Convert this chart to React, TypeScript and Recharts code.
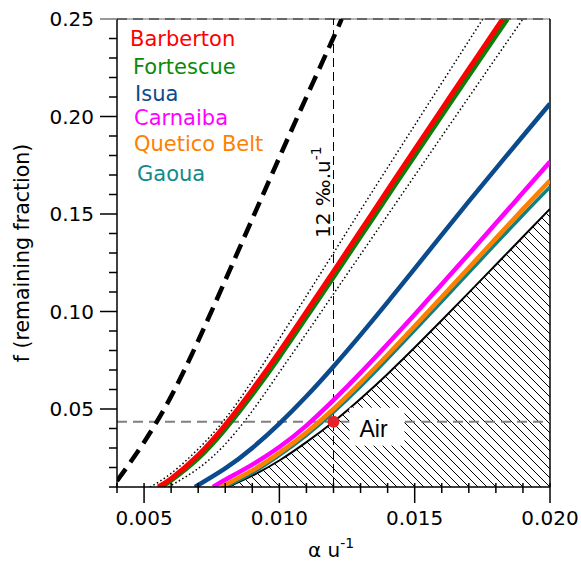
import React from "react";
import {
  ComposedChart, Line, Area, XAxis, YAxis, ReferenceLine, ReferenceDot, Customized,
} from "recharts";

const FONT = "'DejaVu Sans', sans-serif";

// [α u⁻¹, f] pairs
const barberton = [
  [0.00552, 0.010], [0.006, 0.0143], [0.007, 0.0263], [0.008, 0.0418], [0.009, 0.0598],
  [0.010, 0.0793], [0.011, 0.0998], [0.012, 0.1205], [0.013, 0.1413], [0.014, 0.1622],
  [0.015, 0.183], [0.016, 0.2037], [0.017, 0.2243], [0.018, 0.2448], [0.01825, 0.25],
];
const fortescue = [
  [0.00563, 0.010], [0.006, 0.0135], [0.007, 0.0248], [0.008, 0.0398], [0.009, 0.0575],
  [0.010, 0.0768], [0.011, 0.0972], [0.012, 0.1178], [0.013, 0.1385], [0.014, 0.1593],
  [0.015, 0.180], [0.016, 0.2006], [0.017, 0.2211], [0.018, 0.2415], [0.01842, 0.25],
];
const bandUpper = [
  [0.00522, 0.010], [0.006, 0.017], [0.007, 0.0295], [0.008, 0.045], [0.009, 0.0645],
  [0.010, 0.086], [0.011, 0.108], [0.012, 0.130], [0.013, 0.152], [0.014, 0.1738],
  [0.015, 0.1955], [0.016, 0.2172], [0.017, 0.2388], [0.01752, 0.25],
];
const bandLower = [
  [0.0059, 0.010], [0.007, 0.0195], [0.008, 0.032], [0.009, 0.049], [0.010, 0.0688],
  [0.011, 0.0888], [0.012, 0.109], [0.013, 0.1292], [0.014, 0.1494], [0.015, 0.1696],
  [0.016, 0.1898], [0.017, 0.2099], [0.018, 0.230], [0.019, 0.250],
];
const isua = [
  [0.00688, 0.010], [0.008, 0.0195], [0.009, 0.030], [0.010, 0.0425], [0.011, 0.0565],
  [0.012, 0.0718], [0.013, 0.088], [0.014, 0.1048], [0.015, 0.122], [0.016, 0.1393],
  [0.017, 0.1565], [0.018, 0.1733], [0.019, 0.190], [0.020, 0.2066],
];
const carnaiba = [
  [0.00755, 0.010], [0.008, 0.0137], [0.009, 0.0215], [0.010, 0.0305], [0.011, 0.0415],
  [0.012, 0.0545], [0.013, 0.0685], [0.014, 0.0833], [0.015, 0.0985], [0.016, 0.114],
  [0.017, 0.1295], [0.018, 0.1452], [0.019, 0.161], [0.020, 0.1768],
];
const quetico = [
  [0.00784, 0.010], [0.009, 0.0185], [0.010, 0.0275], [0.011, 0.038], [0.012, 0.050],
  [0.013, 0.0635], [0.014, 0.0778], [0.015, 0.0925], [0.016, 0.1074], [0.017, 0.1224],
  [0.018, 0.1375], [0.019, 0.1525], [0.020, 0.1672],
];
const gaoua = [
  [0.0080, 0.010], [0.009, 0.0172], [0.010, 0.0262], [0.011, 0.0365], [0.012, 0.0483],
  [0.013, 0.0615], [0.014, 0.0757], [0.015, 0.0903], [0.016, 0.1051], [0.017, 0.120],
  [0.018, 0.1348], [0.019, 0.1495], [0.020, 0.1638],
];
const airLimit = [
  [0.0081, 0.010], [0.009, 0.0158], [0.010, 0.0236], [0.011, 0.033], [0.012, 0.0435],
  [0.013, 0.0553], [0.014, 0.068], [0.015, 0.0815], [0.016, 0.0955], [0.017, 0.1097],
  [0.018, 0.124], [0.019, 0.1383], [0.020, 0.1526],
];
const rayleigh = [
  [0.004, 0.0131], [0.005, 0.033], [0.006, 0.0565], [0.007, 0.085], [0.008, 0.116],
  [0.009, 0.1475], [0.010, 0.179], [0.011, 0.210], [0.012, 0.2405], [0.0123, 0.25],
];

const air = { x: 0.012, f: 0.0435 };

const xTicks = [0.004, 0.005, 0.006, 0.007, 0.008, 0.009, 0.010, 0.011, 0.012,
  0.013, 0.014, 0.015, 0.016, 0.017, 0.018, 0.019, 0.020];
const yTicks = [0.01, 0.02, 0.03, 0.04, 0.05, 0.06, 0.07, 0.08, 0.09, 0.10, 0.11, 0.12, 0.13,
  0.14, 0.15, 0.16, 0.17, 0.18, 0.19, 0.20, 0.21, 0.22, 0.23, 0.24, 0.25];

const legendNames = ["Barberton", "Fortescue", "Isua", "Carnaiba", "Quetico Belt", "Gaoua"];
const legendColors = ["#ff0000", "#0a8a0a", "#0b4a8c", "#ff00ff", "#ff8000", "#108a8a"];
const legendPos = [[130, 46], [133, 74], [135, 101], [134, 125], [134, 151], [137, 181]];

const pts = (a: number[][]) => a.map(([x, f]) => ({ x, f }));

function XTick({ x, y, payload }: any) {
  const v = payload.value;
  const major = Math.round(v * 1000) % 5 === 0;
  return (
    <g>
      <line x1={x} x2={x} y1={y - 4} y2={y + (major ? 16 : 6)} stroke="#000" strokeWidth={1.5} />
      {major && (
        <text x={x} y={y + 38} textAnchor="middle" fontSize={20} fontFamily={FONT} fill="#000">
          {v.toFixed(3)}
        </text>
      )}
    </g>
  );
}

function YTick({ x, y, payload }: any) {
  const v = payload.value;
  const major = Math.round(v * 100) % 5 === 0;
  return (
    <g>
      <line x1={x - (major ? 17 : 8)} x2={x} y1={y} y2={y}
        stroke={v > 0.245 ? "#777" : "#000"} strokeWidth={1.5} />
      {major && (
        <text x={x - 23} y={y + 7} textAnchor="end" fontSize={20} fontFamily={FONT} fill="#000">
          {v.toFixed(2)}
        </text>
      )}
    </g>
  );
}

function AirLabel({ viewBox }: any) {
  const cx = viewBox.x + viewBox.width / 2;
  const cy = viewBox.y + viewBox.height / 2;
  return (
    <g>
      <rect x={cx + 16} y={cy - 14} width={55} height={38} fill="#fff" />
      <text x={cx + 26} y={cy + 15} fontSize={23} fontFamily="'Liberation Sans', Arial, sans-serif" fill="#000">
        Air
      </text>
    </g>
  );
}

function PermilLabel({ viewBox }: any) {
  const x = viewBox.x - 4;
  const y = viewBox.y + 219;
  return (
    <text transform={`translate(${x},${y}) rotate(-90)`} fontSize={20} fontFamily={FONT} fill="#000">
      12 ‰.u<tspan dy={-9} fontSize={14}>-1</tspan>
    </text>
  );
}

function Annotations() {
  return (
    <g fontFamily={FONT}>
      {legendNames.map((n, i) => (
        <text key={n} x={legendPos[i][0]} y={legendPos[i][1]} fill={legendColors[i]} fontSize={21}>{n}</text>
      ))}
      <text transform="translate(29,253) rotate(-90)" textAnchor="middle" fontSize={20.5} fill="#000">
        f (remaining fraction)
      </text>
      <text x={308} y={557} fontSize={20} fill="#000">
        α u<tspan dy={-9} fontSize={14}>-1</tspan>
      </text>
    </g>
  );
}

const curve = { type: "natural" as const, dot: false, activeDot: false, isAnimationActive: false };

export default function App() {
  return (
    <div style={{ width: 581, height: 564, background: "#fff" }}>
      <style>{"body{margin:0}"}</style>
      <ComposedChart width={581} height={564} margin={{ top: 19, right: 31, left: 0, bottom: 0 }}>
        <defs>
          <pattern id="hatch" patternUnits="userSpaceOnUse" width={9} height={9}>
            <path d="M-1,-1 L10,10 M-1,8 L1,10 M8,-1 L10,1" stroke="#000" strokeWidth={1} />
          </pattern>
        </defs>
        <XAxis type="number" dataKey="x" domain={[0.004, 0.02]} ticks={xTicks} interval={0}
          allowDataOverflow height={77} tick={XTick} tickLine={false} tickSize={0} tickMargin={0}
          axisLine={{ stroke: "#000", strokeWidth: 1.5 }} />
        <YAxis type="number" dataKey="f" domain={[0.01, 0.25]} ticks={yTicks} interval={0}
          allowDataOverflow width={117} tick={YTick} tickLine={false} tickSize={0} tickMargin={0}
          axisLine={{ stroke: "#000", strokeWidth: 1.5 }} />

        <Area data={pts(airLimit)} dataKey="f" baseValue={0.01} {...curve}
          fill="url(#hatch)" fillOpacity={1} stroke="#000" strokeWidth={2} />

        <ReferenceLine y={0.25} stroke="#b5b5b5" strokeWidth={2} />
        <ReferenceLine y={0.25} stroke="#666" strokeWidth={2} strokeDasharray="10 6" />
        <ReferenceLine x={0.02} stroke="#000" strokeWidth={1.5} />
        <ReferenceLine y={air.f} stroke="#808080" strokeWidth={2} strokeDasharray="10 6" />
        <ReferenceLine x={air.x} stroke="#000" strokeWidth={1} strokeDasharray="9 5" label={<PermilLabel />} />

        <Line data={pts(bandUpper)} dataKey="f" {...curve} stroke="#000" strokeWidth={1.5} strokeDasharray="1.5 2.5" />
        <Line data={pts(bandLower)} dataKey="f" {...curve} stroke="#000" strokeWidth={1.5} strokeDasharray="1.5 2.5" />
        <Line data={pts(rayleigh)} dataKey="f" {...curve} stroke="#000" strokeWidth={4.5} strokeDasharray="15 8" />
        <Line data={pts(fortescue)} dataKey="f" {...curve} stroke="#0a7f0a" strokeWidth={5} />
        <Line data={pts(barberton)} dataKey="f" {...curve} stroke="#ff0000" strokeWidth={5} />
        <Line data={pts(isua)} dataKey="f" {...curve} stroke="#0b4a8c" strokeWidth={4.5} />
        <Line data={pts(carnaiba)} dataKey="f" {...curve} stroke="#ff00ff" strokeWidth={4.5} />
        <Line data={pts(gaoua)} dataKey="f" {...curve} stroke="#108080" strokeWidth={3.5} />
        <Line data={pts(quetico)} dataKey="f" {...curve} stroke="#ff8000" strokeWidth={4.5} />

        <ReferenceDot x={air.x} y={air.f} r={6} fill="#e42228" stroke="none" label={<AirLabel />} />
        <Customized component={Annotations} />
      </ComposedChart>
    </div>
  );
}
